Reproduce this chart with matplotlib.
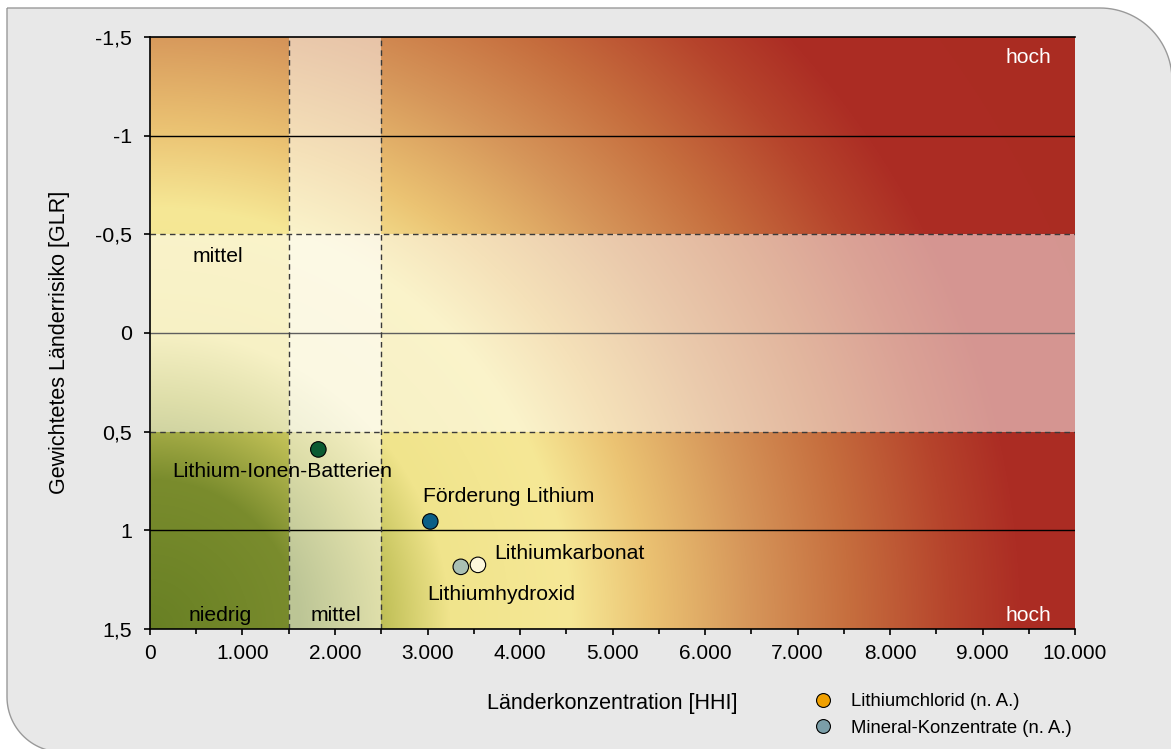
import numpy as np
import matplotlib
matplotlib.use("Agg")
import matplotlib.pyplot as plt
from matplotlib.path import Path
from matplotlib.patches import PathPatch
from matplotlib.lines import Line2D

plt.rcParams['font.family'] = ['Liberation Sans', 'DejaVu Sans']

# ---------------- data ----------------
point_names = ["Lithium-Ionen-Batterien", "Förderung Lithium", "Lithiumhydroxid", "Lithiumkarbonat"]
point_hhi = [1820, 3030, 3360, 3545]
point_glr = [0.59, 0.955, 1.185, 1.175]
point_colors = ["#0b5a32", "#0b5f86", "#a9bfb2", "#fdf7dc"]

legend_names = ["Lithiumchlorid (n. A.)", "Mineral-Konzentrate (n. A.)"]
legend_colors = ["#f0a000", "#7a9ea8"]

x_ticks = [0, 1000, 2000, 3000, 4000, 5000, 6000, 7000, 8000, 9000, 10000]
x_ticklabels = ["0", "1.000", "2.000", "3.000", "4.000", "5.000", "6.000", "7.000", "8.000", "9.000", "10.000"]
y_ticks = [-1.5, -1, -0.5, 0, 0.5, 1, 1.5]
y_ticklabels = ["-1,5", "-1", "-0,5", "0", "0,5", "1", "1,5"]

# gradient stops: distance from lower-left corner (in plot pixels) -> colour
grad_dist = [0, 150, 230, 300, 420, 500, 600, 700, 800, 870, 1100]
grad_rgb = [(104, 128, 36), (122, 140, 45), (190, 190, 85), (240, 228, 140), (246, 232, 150),
            (235, 195, 115), (214, 150, 90), (198, 110, 62), (182, 68, 44), (172, 45, 36), (170, 44, 34)]

W, H = 1171, 749
fig = plt.figure(figsize=(W / 100, H / 100), dpi=100)

# background panel (square top-left, rounded top-right and bottom-left)
def panel_path():
    L, T, R, B = 7, 8, 1172, 752
    rtr, rbl = 72, 55
    pts = [(L, T), (R - rtr, T)]
    for a in np.linspace(-90, 0, 30):
        pts.append((R - rtr + rtr * np.cos(np.radians(a)), T + rtr + rtr * np.sin(np.radians(a))))
    pts.append((R, B))
    pts.append((L + rbl, B))
    for a in np.linspace(90, 180, 30):
        pts.append((L + rbl + rbl * np.cos(np.radians(a)), B - rbl + rbl * np.sin(np.radians(a))))
    pts.append((L, T))
    pts = [(x / W, 1 - y / H) for x, y in pts]
    return Path(pts)

fig.patches.append(PathPatch(panel_path(), transform=fig.transFigure, facecolor="#e8e8e8",
                             edgecolor="#9a9a9a", lw=1.0, zorder=-5))

ax = fig.add_axes([150 / W, 1 - 629 / H, 925 / W, 592 / H])
ax.set_zorder(2)

# radial gradient background
nx, ny = 925, 592
X, Y = np.meshgrid(np.arange(nx) + 0.5, np.arange(ny) + 0.5)
D = np.hypot(X, Y)
rgb = np.array(grad_rgb, dtype=float) / 255.0
img = np.dstack([np.interp(D, grad_dist, rgb[:, c]) for c in range(3)])
ax.imshow(img, extent=(0, 10000, 1.5, -1.5), origin='lower', aspect='auto', zorder=0,
          interpolation='bilinear')
ax.set_xlim(0, 10000)
ax.set_ylim(1.5, -1.5)

# white "mittel" bands
ax.axvspan(1500, 2500, color="white", alpha=0.5, lw=0, zorder=2)
ax.axhspan(-0.5, 0.5, color="white", alpha=0.5, lw=0, zorder=2)

# grid lines
for yv, col in [(-1, "black"), (0, "#5e5e5e"), (1, "black")]:
    ax.axhline(yv, color=col, lw=1.0, zorder=3)
for yv in [-0.5, 0.5]:
    ax.axhline(yv, color="#3a3a3a", lw=1.0, ls=(0, (4, 3)), zorder=3)
for xv in [1500, 2500]:
    ax.axvline(xv, color="#3a3a3a", lw=1.0, ls=(0, (4, 3)), zorder=3)

# points
ax.scatter(point_hhi, point_glr, s=125, c=point_colors, edgecolors="black", linewidths=0.8, zorder=5)

fs = 15.2
ax.text(1427, 0.704, point_names[0], ha="center", va="center", fontsize=fs, zorder=6)
ax.text(2951, 0.831, point_names[1], ha="left", va="center", fontsize=fs, zorder=6)
ax.text(2995, 1.323, point_names[2], ha="left", va="center", fontsize=fs, zorder=6)
ax.text(3719, 1.115, point_names[3], ha="left", va="center", fontsize=fs, zorder=6)

# zone labels
ax.text(9492, -1.395, "hoch", ha="center", va="center", fontsize=fs, color="white", zorder=6)
ax.text(9492, 1.432, "hoch", ha="center", va="center", fontsize=fs, color="white", zorder=6)
ax.text(735, -0.39, "mittel", ha="center", va="center", fontsize=fs, zorder=6)
ax.text(757, 1.432, "niedrig", ha="center", va="center", fontsize=fs, zorder=6)
ax.text(2011, 1.432, "mittel", ha="center", va="center", fontsize=fs, zorder=6)

# axes styling
ax.spines["right"].set_visible(False)
for s in ["left", "top", "bottom"]:
    ax.spines[s].set_color("black")
    ax.spines[s].set_linewidth(1.2)
    ax.spines[s].set_zorder(7)

ax.set_xticks(x_ticks)
ax.set_xticklabels(x_ticklabels)
ax.set_xticks(np.arange(500, 10000, 1000), minor=True)
ax.set_yticks(y_ticks)
ax.set_yticklabels(y_ticklabels)
ax.tick_params(axis="x", which="major", length=4.5, width=1.2, pad=6.5, labelsize=15, direction="out")
ax.tick_params(axis="x", which="minor", length=3.5, width=1.2, direction="out")
ax.tick_params(axis="y", which="major", length=4.3, width=1.2, pad=8.5, labelsize=15.4, direction="out")

fig.text(60 / W, 1 - 342 / H, "Gewichtetes Länderrisiko [GLR]", rotation=90, ha="center", va="center",
         fontsize=15.5)
fig.text(612 / W, 1 - 703 / H, "Länderkonzentration [HHI]", ha="center", va="center", fontsize=15.5)

handles = [Line2D([], [], ls="none", marker="o", markersize=10, markerfacecolor=c,
                  markeredgecolor="black", markeredgewidth=0.8) for c in legend_colors]
fig.legend(handles, legend_names, loc="upper left", bbox_to_anchor=(814 / W, 1 - 693.5 / H),
           frameon=False, fontsize=13.3, handlelength=1.0, handletextpad=1.0,
           labelspacing=0.5, borderpad=0, borderaxespad=0)

fig.savefig("out.png", dpi=100)
